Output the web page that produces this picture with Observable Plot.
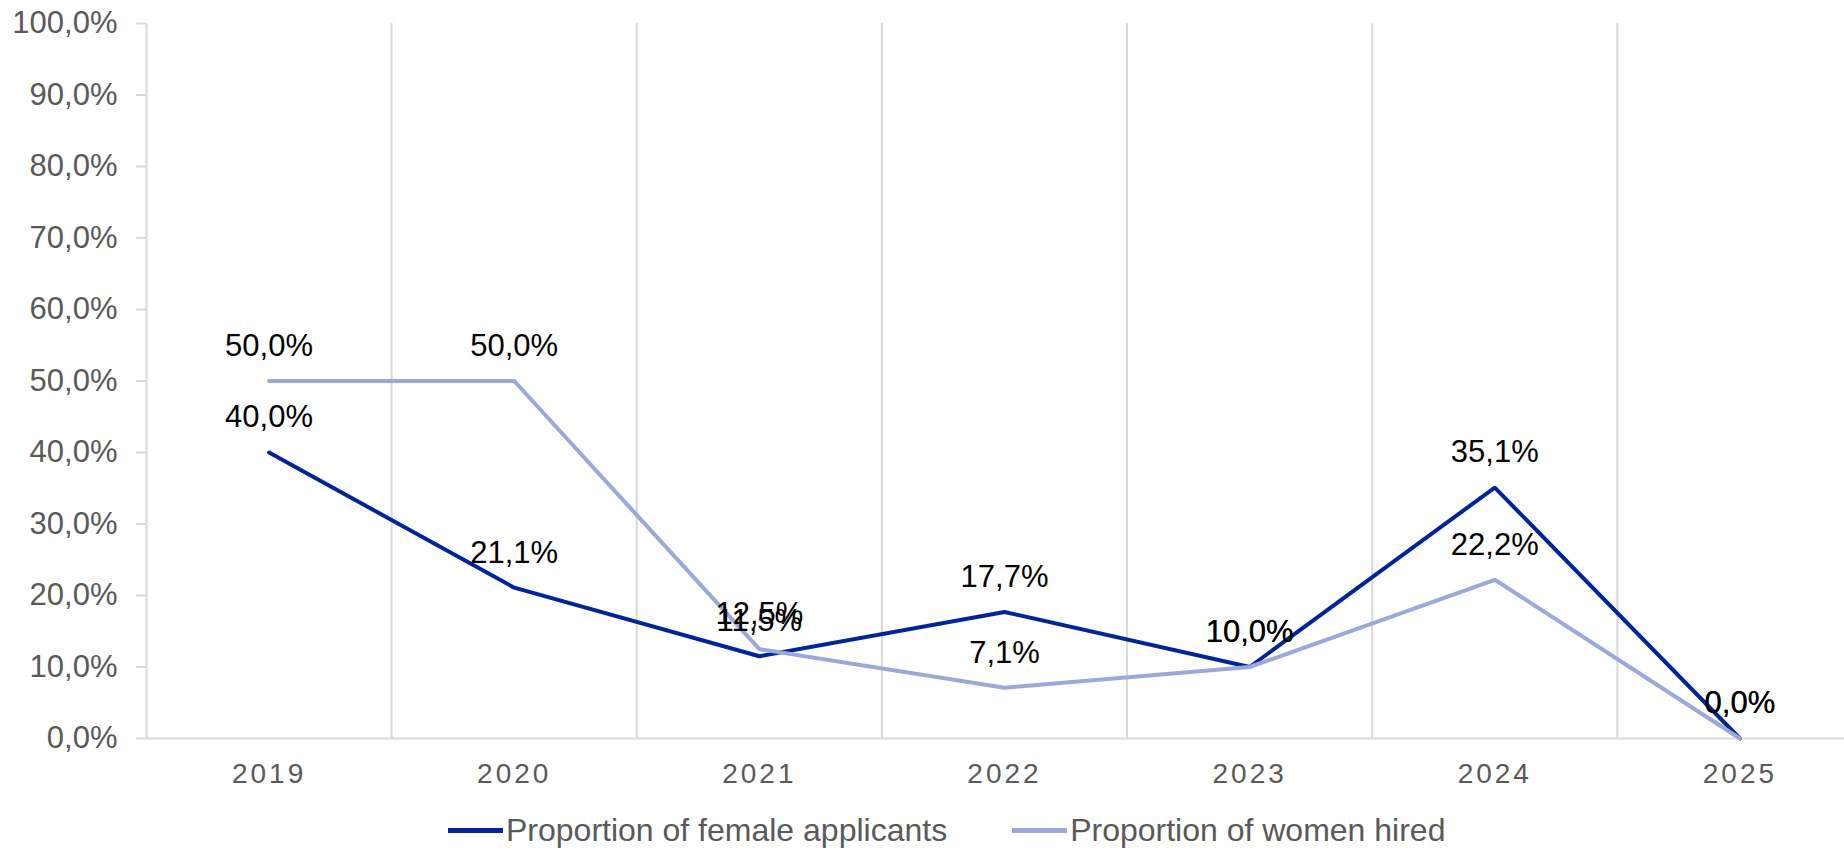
<!DOCTYPE html>
<html>
<head>
<meta charset="utf-8">
<script src="https://cdn.jsdelivr.net/npm/d3@7"></script>
<script src="https://cdn.jsdelivr.net/npm/@observablehq/plot@0.6"></script>
<style>
  html, body { margin: 0; padding: 0; background: #fff; overflow: hidden; width: 1844px; height: 850px; }
  #chart svg { overflow: hidden; display: block; }
  #chart g[aria-label="x-axis tick label"] text { letter-spacing: 3px; }
  #legend { height: 60px; display: flex; align-items: center; padding-left: 448px; font-family: Arial, "Liberation Sans", sans-serif; font-size: 32px; color: #595959; }
  .item { display: flex; align-items: center; }
  .sw { width: 55px; height: 5px; margin-right: 3px; }
</style>
</head>
<body>
<div id="chart"></div>
<div id="legend"></div>
<script>
const years = [2019, 2020, 2021, 2022, 2023, 2024, 2025];
const applicants = [40.0, 21.1, 11.5, 17.7, 10.0, 35.1, 0.0];
const hired = [50.0, 50.0, 12.5, 7.1, 10.0, 22.2, 0.0];
const seriesNames = ["Proportion of female applicants", "Proportion of women hired"];
const seriesColors = ["#00259A", "#9AA8DA"];
const yTicks = [0, 10, 20, 30, 40, 50, 60, 70, 80, 90, 100];

const fmt = d => d.toFixed(1).replace(".", ",") + "%";
const rowsA = years.map((y, i) => ({year: y, value: applicants[i], s: seriesNames[0]}));
const rowsH = years.map((y, i) => ({year: y, value: hired[i], s: seriesNames[1]}));
const boundaries = [years[0] - 0.5, ...years.map(y => y + 0.5)];

const plot = Plot.plot({
  width: 1844,
  height: 800,
  marginTop: 23,
  marginBottom: 62,
  marginLeft: 146,
  marginRight: 0,
  x: {domain: [years[0] - 0.5, years[years.length - 1] + 0.5], range: [146, 1862]},
  y: {domain: [0, 100]},
  style: {fontFamily: "Arial, 'Liberation Sans', sans-serif", background: "#fff"},
  marks: [
    Plot.ruleX(boundaries, {y1: 0, y2: 100, stroke: "#d9d9d9", strokeWidth: 2}),
    Plot.ruleY([0], {x1: years[0] - 0.5, x2: years[years.length - 1] + 0.5, stroke: "#d9d9d9", strokeWidth: 2}),
    Plot.axisY({ticks: yTicks, tickFormat: fmt, tickSize: 10, tickPadding: 19, stroke: "#d9d9d9", strokeWidth: 2, strokeOpacity: 1, fill: "#595959", fontSize: 31, label: null}),
    Plot.axisX({ticks: years, tickFormat: d => String(d), tickSize: 0, tickPadding: 25, fill: "#595959", fontSize: 28, label: null}),
    Plot.line(rowsA, {x: "year", y: "value", stroke: seriesColors[0], strokeWidth: 4, strokeLinejoin: "miter"}),
    Plot.line(rowsH, {x: "year", y: "value", stroke: seriesColors[1], strokeWidth: 4, strokeLinejoin: "miter"}),
    Plot.text(rowsA, {x: "year", y: "value", text: d => fmt(d.value), dy: -35, fontSize: 31, fill: "#000"}),
    Plot.text(rowsH, {x: "year", y: "value", text: d => fmt(d.value), dy: -35, fontSize: 31, fill: "#000"})
  ]
});
document.getElementById("chart").appendChild(plot);

const legend = document.getElementById("legend");
seriesNames.forEach((name, i) => {
  const it = document.createElement("div");
  it.className = "item";
  if (i > 0) it.style.marginLeft = "65px";
  const sw = document.createElement("div");
  sw.className = "sw";
  sw.style.background = seriesColors[i];
  const t = document.createElement("span");
  t.textContent = name;
  it.appendChild(sw);
  it.appendChild(t);
  legend.appendChild(it);
});
</script>
</body>
</html>
